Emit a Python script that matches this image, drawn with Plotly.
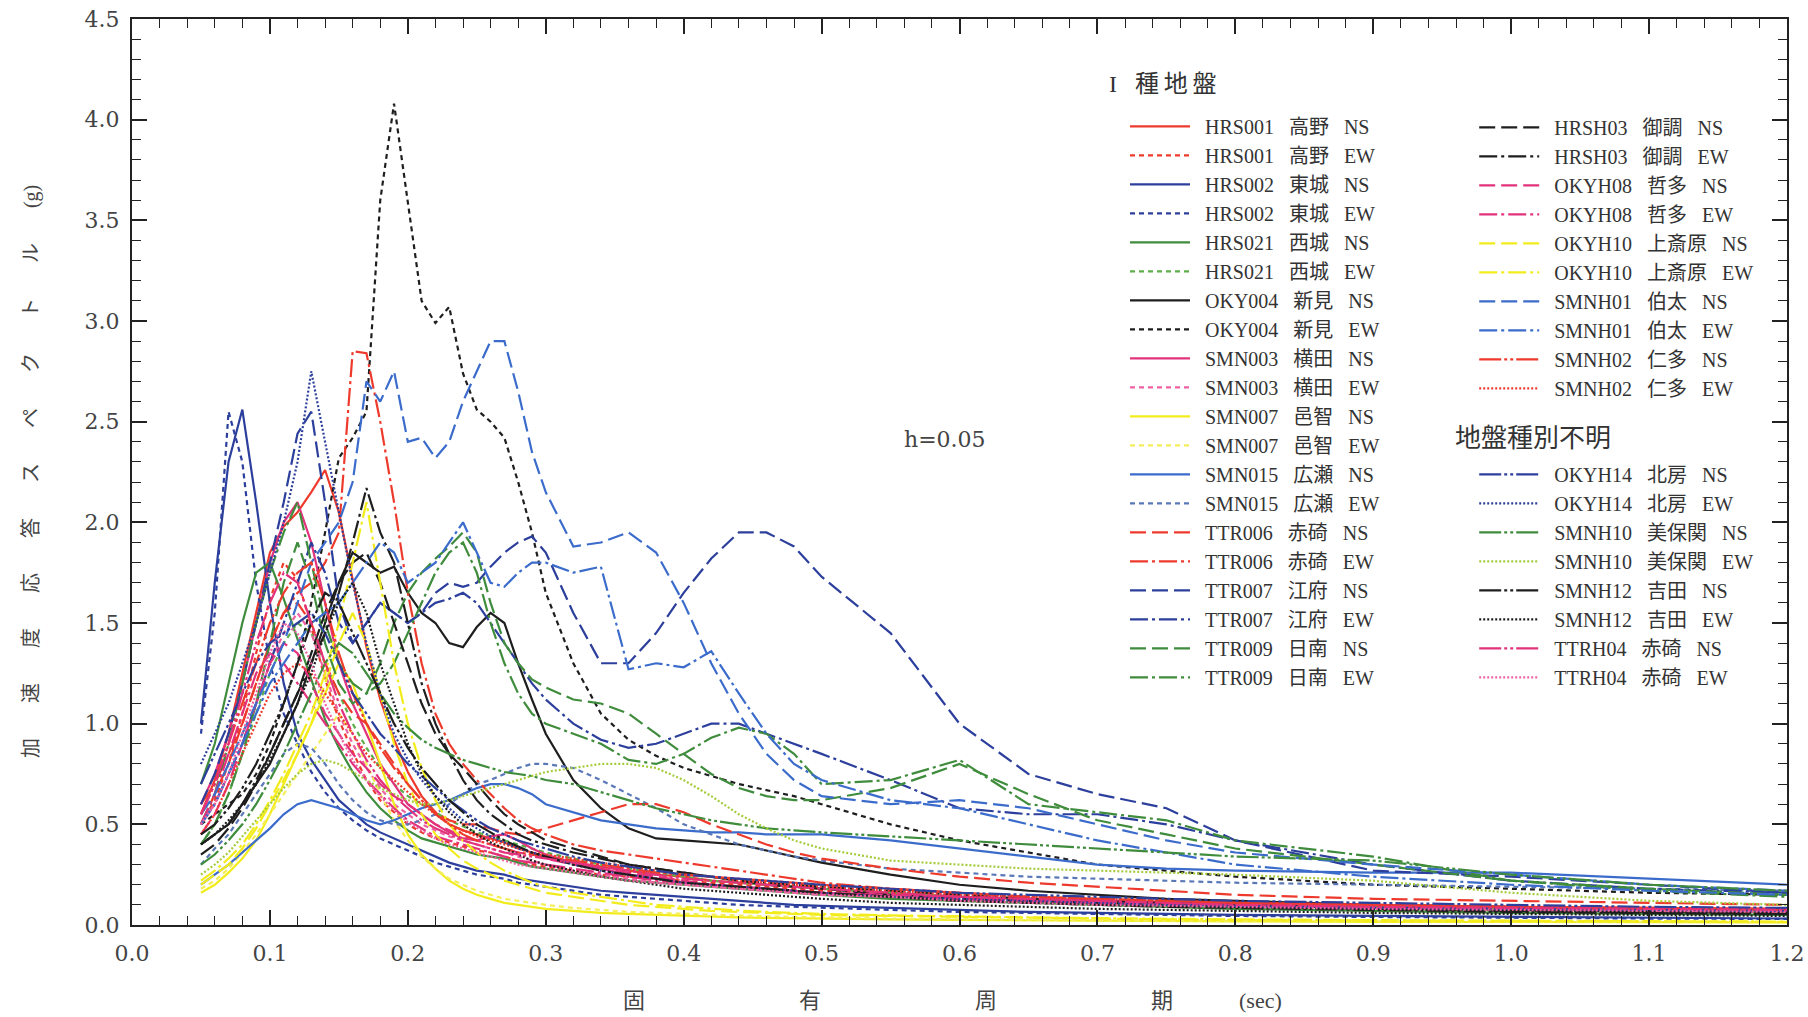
import plotly.graph_objects as go

# natural periods (sec)
period = [
    0.05, 0.06, 0.07, 0.08, 0.09, 0.10, 0.11, 0.12, 0.13, 0.14,
    0.15, 0.16, 0.17, 0.18, 0.19, 0.20, 0.21, 0.22, 0.23, 0.24,
    0.25, 0.26, 0.27, 0.28, 0.29, 0.30, 0.32, 0.34, 0.36, 0.38,
    0.40, 0.42, 0.44, 0.46, 0.48, 0.50, 0.55, 0.60, 0.65, 0.70,
    0.75, 0.80, 0.90, 1.00, 1.10, 1.20]

# acceleration response spectra (g), h=0.05
hrs001_ns = [0.55, 0.72, 0.95, 1.25, 1.55, 1.85, 1.98, 2.05, 2.15, 2.26,
             2.05, 1.72, 1.38, 1.12, 0.92, 0.76, 0.64, 0.56, 0.5, 0.47,
             0.45, 0.43, 0.41, 0.38, 0.36, 0.34, 0.31, 0.29, 0.27, 0.25,
             0.24, 0.22, 0.21, 0.2, 0.19, 0.18, 0.16, 0.14, 0.13, 0.12,
             0.11, 0.1, 0.09, 0.08, 0.07, 0.065]
hrs001_ew = [0.5, 0.62, 0.8, 1.05, 1.35, 1.62, 1.8, 1.72, 1.48, 1.22,
             1.02, 0.86, 0.72, 0.62, 0.56, 0.5, 0.46, 0.43, 0.41, 0.39,
             0.37, 0.36, 0.34, 0.32, 0.3, 0.29, 0.27, 0.25, 0.24, 0.23,
             0.22, 0.21, 0.2, 0.19, 0.18, 0.17, 0.15, 0.13, 0.12, 0.11,
             0.1, 0.095, 0.085, 0.075, 0.065, 0.06]
hrs002_ns = [1.0, 1.7, 2.3, 2.56, 2.1, 1.6, 1.2, 0.95, 0.82, 0.72,
             0.62, 0.56, 0.5, 0.46, 0.43, 0.4, 0.37, 0.34, 0.31, 0.29,
             0.27, 0.26, 0.25, 0.23, 0.22, 0.21, 0.19, 0.17, 0.16, 0.15,
             0.14, 0.13, 0.12, 0.11, 0.1, 0.095, 0.085, 0.075, 0.065, 0.06,
             0.055, 0.05, 0.045, 0.04, 0.035, 0.032]
hrs002_ew = [0.95, 1.55, 2.55, 2.3, 1.7, 1.3, 1.05, 0.9, 0.76, 0.66,
             0.58, 0.52, 0.47, 0.43, 0.4, 0.37, 0.34, 0.31, 0.29, 0.27,
             0.25, 0.24, 0.23, 0.21, 0.2, 0.19, 0.17, 0.15, 0.14, 0.13,
             0.12, 0.11, 0.1, 0.095, 0.09, 0.085, 0.075, 0.065, 0.06, 0.055,
             0.05, 0.045, 0.04, 0.035, 0.032, 0.03]
hrs021_ns = [0.7, 0.9, 1.2, 1.5, 1.75, 1.8, 1.62, 1.42, 1.22, 1.02,
             0.88, 0.76, 0.66, 0.58, 0.52, 0.47, 0.43, 0.41, 0.39, 0.37,
             0.35, 0.34, 0.33, 0.31, 0.29, 0.28, 0.26, 0.24, 0.22, 0.21,
             0.2, 0.19, 0.18, 0.17, 0.16, 0.15, 0.13, 0.12, 0.11, 0.1,
             0.09, 0.08, 0.07, 0.06, 0.055, 0.05]
hrs021_ew = [0.4, 0.5, 0.65, 0.85, 1.05, 1.25, 1.4, 1.5, 1.45, 1.3,
             1.15, 1.0, 0.88, 0.78, 0.7, 0.64, 0.6, 0.56, 0.52, 0.49,
             0.46, 0.44, 0.42, 0.4, 0.38, 0.36, 0.33, 0.3, 0.28, 0.26,
             0.24, 0.22, 0.21, 0.2, 0.19, 0.18, 0.16, 0.14, 0.13, 0.12,
             0.11, 0.1, 0.09, 0.08, 0.07, 0.065]
oky004_ns = [0.4, 0.45, 0.5, 0.6, 0.7, 0.8, 0.95, 1.1, 1.3, 1.5,
             1.7, 1.85, 1.8, 1.75, 1.78, 1.65, 1.55, 1.5, 1.4, 1.38,
             1.48, 1.55, 1.5, 1.3, 1.12, 0.95, 0.72, 0.58, 0.48, 0.43,
             0.42, 0.41, 0.4, 0.37, 0.34, 0.31, 0.25, 0.2, 0.17, 0.15,
             0.13, 0.12, 0.1, 0.09, 0.08, 0.075]
oky004_ew = [0.5, 0.55, 0.6, 0.65, 0.75, 0.9, 1.1, 1.3, 1.6, 1.95,
             2.32, 2.42, 2.55, 3.6, 4.08, 3.6, 3.1, 2.99, 3.07, 2.74,
             2.56, 2.5, 2.42, 2.2, 1.95, 1.65, 1.3, 1.05, 0.92, 0.84,
             0.78, 0.74, 0.7, 0.67, 0.64, 0.6, 0.5, 0.42, 0.36, 0.3,
             0.27, 0.24, 0.2, 0.18, 0.16, 0.15]
smn003_ns = [0.6, 0.75, 0.95, 1.2, 1.5, 1.8, 2.0, 2.1, 1.9, 1.6,
             1.3, 1.1, 0.95, 0.8, 0.7, 0.6, 0.55, 0.5, 0.46, 0.43,
             0.42, 0.44, 0.45, 0.42, 0.38, 0.35, 0.31, 0.28, 0.25, 0.23,
             0.21, 0.2, 0.19, 0.18, 0.17, 0.16, 0.15, 0.14, 0.13, 0.12,
             0.115, 0.11, 0.1, 0.09, 0.085, 0.08]
smn003_ew = [0.5, 0.6, 0.75, 0.9, 1.1, 1.3, 1.45, 1.55, 1.45, 1.25,
             1.05, 0.9, 0.78, 0.68, 0.6, 0.55, 0.5, 0.47, 0.44, 0.42,
             0.4, 0.38, 0.36, 0.34, 0.32, 0.3, 0.27, 0.25, 0.23, 0.21,
             0.2, 0.19, 0.18, 0.17, 0.16, 0.15, 0.14, 0.13, 0.12, 0.11,
             0.1, 0.095, 0.085, 0.08, 0.07, 0.065]
smn007_ns = [0.16, 0.2, 0.26, 0.33, 0.42, 0.55, 0.7, 0.85, 1.0, 1.15,
             1.3, 1.2, 1.0, 0.8, 0.6, 0.45, 0.35, 0.28, 0.22, 0.18,
             0.15, 0.13, 0.11, 0.1, 0.09, 0.08, 0.07, 0.06, 0.055, 0.05,
             0.045, 0.04, 0.038, 0.035, 0.033, 0.03, 0.028, 0.025, 0.023, 0.02,
             0.02, 0.018, 0.016, 0.015, 0.014, 0.013]
smn007_ew = [0.18, 0.22, 0.28, 0.36, 0.45, 0.55, 0.65, 0.75, 0.85, 0.95,
             1.05, 0.95, 0.8, 0.65, 0.52, 0.42, 0.34, 0.28, 0.23, 0.2,
             0.17, 0.15, 0.13, 0.12, 0.11, 0.1, 0.085, 0.075, 0.065, 0.06,
             0.055, 0.05, 0.046, 0.043, 0.04, 0.037, 0.032, 0.028, 0.025, 0.023,
             0.021, 0.02, 0.018, 0.016, 0.015, 0.014]
smn015_ns = [0.2, 0.25, 0.3, 0.36, 0.42, 0.48, 0.55, 0.6, 0.62, 0.6,
             0.58, 0.55, 0.52, 0.5, 0.52, 0.55, 0.58, 0.6, 0.62, 0.65,
             0.68, 0.7, 0.7, 0.68, 0.65, 0.6, 0.56, 0.52, 0.5, 0.48,
             0.47, 0.46, 0.46, 0.45, 0.45, 0.45, 0.42, 0.38, 0.34, 0.3,
             0.28, 0.27, 0.26, 0.26, 0.23, 0.2]
smn015_ew = [0.3, 0.38, 0.45, 0.55, 0.65, 0.75, 0.85, 0.9, 0.88, 0.8,
             0.7, 0.62, 0.56, 0.52, 0.5, 0.5, 0.52, 0.55, 0.6, 0.65,
             0.7, 0.72, 0.75, 0.78, 0.8, 0.8, 0.78, 0.72, 0.65, 0.58,
             0.5, 0.45, 0.4, 0.37, 0.34, 0.32, 0.28, 0.26, 0.24, 0.23,
             0.22, 0.21, 0.2, 0.19, 0.18, 0.17]
ttr006_ns = [0.5, 0.65, 0.8, 1.0, 1.2, 1.4, 1.55, 1.6, 1.5, 1.3,
             1.15, 1.05, 1.0, 0.9, 0.8, 0.7, 0.62, 0.56, 0.52, 0.5,
             0.5, 0.48, 0.46, 0.45, 0.46, 0.48, 0.52, 0.56, 0.6, 0.6,
             0.56, 0.5, 0.45, 0.4, 0.36, 0.33, 0.28, 0.24, 0.21, 0.19,
             0.17, 0.15, 0.13, 0.12, 0.11, 0.1]
ttr006_ew = [0.6, 0.7, 0.85, 1.0, 1.2, 1.4, 1.55, 1.65, 1.7, 1.8,
             1.95, 2.85, 2.84, 2.5, 2.1, 1.65, 1.3, 1.05, 0.9, 0.8,
             0.72, 0.65, 0.58, 0.52, 0.48, 0.45, 0.4, 0.37, 0.35, 0.33,
             0.31, 0.29, 0.27, 0.25, 0.23, 0.21, 0.18, 0.16, 0.14, 0.13,
             0.12, 0.11, 0.1, 0.09, 0.08, 0.075]
ttr007_ns = [0.6, 0.75, 0.95, 1.2, 1.5, 1.8, 2.1, 2.44, 2.55, 2.1,
             1.6, 1.4, 1.5, 1.6, 1.55, 1.5, 1.55, 1.65, 1.7, 1.68,
             1.7, 1.78, 1.85, 1.9, 1.93, 1.85, 1.55, 1.3, 1.3, 1.45,
             1.65, 1.82, 1.95, 1.95, 1.88, 1.73, 1.45, 1.0, 0.75, 0.65,
             0.58, 0.42, 0.27, 0.24, 0.2, 0.16]
ttr007_ew = [0.5, 0.6, 0.75, 0.9, 1.1, 1.3, 1.5, 1.7, 1.9, 1.75,
             1.5, 1.4, 1.5, 1.6, 1.55, 1.5, 1.55, 1.6, 1.62, 1.65,
             1.6, 1.5, 1.4, 1.3, 1.2, 1.12, 1.0, 0.92, 0.88, 0.9,
             0.95, 1.0, 1.0, 0.95, 0.9, 0.85, 0.72, 0.58, 0.55, 0.55,
             0.5, 0.42, 0.3, 0.22, 0.18, 0.16]
ttr009_ns = [0.4, 0.5, 0.65, 0.85, 1.1, 1.4, 1.7, 1.9, 1.7, 1.4,
             1.2, 1.1, 1.15, 1.3, 1.5, 1.65, 1.75, 1.82, 1.88, 1.95,
             1.85, 1.6, 1.4, 1.3, 1.22, 1.18, 1.12, 1.1, 1.05, 0.95,
             0.85, 0.75, 0.68, 0.64, 0.62, 0.62, 0.68, 0.8, 0.65, 0.52,
             0.45, 0.38, 0.3, 0.22, 0.18, 0.15]
ttr009_ew = [0.5, 0.65, 0.9, 1.2, 1.5, 1.75, 1.95, 2.1, 1.8, 1.5,
             1.3, 1.2, 1.15, 1.2, 1.3, 1.45, 1.6, 1.75, 1.85, 1.9,
             1.75, 1.5, 1.3, 1.15, 1.05, 1.0, 0.95, 0.9, 0.82, 0.8,
             0.85, 0.93, 0.98, 0.95, 0.85, 0.7, 0.72, 0.82, 0.6, 0.56,
             0.52, 0.42, 0.34, 0.22, 0.17, 0.14]
hrsh03_ns = [0.35, 0.4, 0.48, 0.58, 0.7, 0.85, 1.0, 1.15, 1.35, 1.55,
             1.7, 1.8, 1.85, 1.7, 1.5, 1.3, 1.1, 0.95, 0.85, 0.78,
             0.7, 0.62, 0.55, 0.5, 0.46, 0.42, 0.38, 0.34, 0.3, 0.28,
             0.26, 0.24, 0.22, 0.2, 0.19, 0.18, 0.15, 0.13, 0.12, 0.11,
             0.1, 0.09, 0.08, 0.07, 0.06, 0.055]
hrsh03_ew = [0.4, 0.45, 0.5, 0.6, 0.72, 0.85, 1.0, 1.15, 1.3, 1.45,
             1.65, 1.9, 2.17, 1.95, 1.8, 1.5, 1.2, 1.0, 0.85, 0.72,
             0.62, 0.55, 0.5, 0.45, 0.42, 0.4, 0.36, 0.33, 0.3, 0.28,
             0.26, 0.24, 0.22, 0.21, 0.2, 0.19, 0.17, 0.15, 0.13, 0.12,
             0.11, 0.1, 0.085, 0.075, 0.065, 0.06]
okyh08_ns = [0.45, 0.55, 0.7, 0.9, 1.1, 1.3, 1.4, 1.35, 1.2, 1.05,
             0.95, 0.85, 0.78, 0.7, 0.64, 0.6, 0.55, 0.5, 0.47, 0.44,
             0.42, 0.4, 0.38, 0.36, 0.35, 0.33, 0.3, 0.28, 0.26, 0.24,
             0.22, 0.2, 0.19, 0.18, 0.17, 0.16, 0.14, 0.13, 0.12, 0.11,
             0.1, 0.095, 0.085, 0.08, 0.075, 0.07]
okyh08_ew = [0.5, 0.65, 0.85, 1.05, 1.25, 1.35, 1.3, 1.2, 1.1, 1.0,
             0.9, 0.8, 0.72, 0.65, 0.58, 0.52, 0.48, 0.44, 0.42, 0.4,
             0.38, 0.36, 0.34, 0.32, 0.31, 0.3, 0.28, 0.26, 0.24, 0.22,
             0.21, 0.2, 0.19, 0.18, 0.17, 0.16, 0.15, 0.14, 0.13, 0.12,
             0.11, 0.1, 0.09, 0.085, 0.08, 0.075]
okyh10_ns = [0.2, 0.25, 0.3, 0.38, 0.48, 0.6, 0.72, 0.85, 1.0, 1.2,
             1.4, 1.55, 1.4, 1.15, 0.9, 0.7, 0.55, 0.45, 0.38, 0.32,
             0.28, 0.25, 0.22, 0.2, 0.18, 0.16, 0.14, 0.12, 0.1, 0.09,
             0.08, 0.07, 0.065, 0.06, 0.055, 0.05, 0.045, 0.04, 0.035, 0.03,
             0.028, 0.025, 0.022, 0.02, 0.018, 0.016]
okyh10_ew = [0.22, 0.27, 0.33, 0.4, 0.5, 0.62, 0.75, 0.9, 1.05, 1.25,
             1.5, 1.8, 2.1, 1.7, 1.3, 1.0, 0.78, 0.62, 0.5, 0.42,
             0.36, 0.31, 0.27, 0.24, 0.21, 0.19, 0.16, 0.14, 0.12, 0.1,
             0.09, 0.08, 0.072, 0.065, 0.06, 0.055, 0.048, 0.042, 0.038, 0.034,
             0.03, 0.028, 0.024, 0.021, 0.019, 0.017]
smnh01_ns = [0.55, 0.65, 0.8, 0.95, 1.1, 1.25, 1.4, 1.6, 1.8, 1.9,
             2.0, 2.2, 2.7, 2.6, 2.75, 2.4, 2.42, 2.32, 2.4, 2.6,
             2.75, 2.9, 2.9, 2.65, 2.35, 2.15, 1.88, 1.9, 1.95, 1.85,
             1.6, 1.3, 1.05, 0.85, 0.72, 0.64, 0.6, 0.62, 0.58, 0.5,
             0.42, 0.36, 0.3, 0.25, 0.2, 0.17]
smnh01_ew = [0.5, 0.6, 0.75, 0.9, 1.05, 1.2, 1.3, 1.4, 1.5, 1.55,
             1.6, 1.7, 1.8, 1.9, 1.85, 1.7, 1.75, 1.8, 1.9, 2.0,
             1.85, 1.7, 1.68, 1.75, 1.8, 1.8, 1.75, 1.78, 1.27, 1.3,
             1.28, 1.36, 1.15, 0.95, 0.8, 0.72, 0.62, 0.58, 0.5, 0.42,
             0.36, 0.3, 0.24, 0.2, 0.17, 0.15]
smnh02_ns = [0.55, 0.7, 0.9, 1.1, 1.3, 1.5, 1.65, 1.75, 1.8, 1.6,
             1.35, 1.15, 1.0, 0.88, 0.78, 0.7, 0.62, 0.55, 0.5, 0.45,
             0.42, 0.4, 0.38, 0.36, 0.35, 0.34, 0.32, 0.3, 0.28, 0.26,
             0.25, 0.24, 0.23, 0.22, 0.21, 0.2, 0.18, 0.16, 0.14, 0.13,
             0.12, 0.11, 0.1, 0.09, 0.085, 0.08]
smnh02_ew = [0.45, 0.55, 0.7, 0.85, 1.0, 1.15, 1.25, 1.3, 1.25, 1.15,
             1.05, 0.95, 0.85, 0.78, 0.72, 0.66, 0.6, 0.55, 0.5, 0.47,
             0.44, 0.42, 0.4, 0.38, 0.36, 0.35, 0.33, 0.31, 0.29, 0.27,
             0.25, 0.24, 0.22, 0.21, 0.2, 0.19, 0.17, 0.15, 0.14, 0.13,
             0.12, 0.11, 0.1, 0.09, 0.08, 0.075]
okyh14_ns = [0.7, 0.85, 1.0, 1.15, 1.3, 1.4, 1.45, 1.5, 1.55, 1.45,
             1.3, 1.15, 1.05, 0.95, 0.88, 0.8, 0.74, 0.68, 0.62, 0.57,
             0.52, 0.48, 0.45, 0.42, 0.4, 0.38, 0.34, 0.31, 0.29, 0.27,
             0.25, 0.24, 0.23, 0.22, 0.21, 0.2, 0.18, 0.16, 0.15, 0.14,
             0.13, 0.12, 0.11, 0.1, 0.09, 0.085]
okyh14_ew = [0.8, 0.95, 1.1, 1.3, 1.5, 1.75, 2.0, 2.3, 2.75, 2.4,
             2.05, 1.7, 1.4, 1.15, 0.95, 0.82, 0.72, 0.64, 0.58, 0.52,
             0.48, 0.44, 0.41, 0.38, 0.36, 0.34, 0.3, 0.27, 0.25, 0.23,
             0.21, 0.2, 0.19, 0.18, 0.17, 0.16, 0.14, 0.13, 0.12, 0.11,
             0.1, 0.095, 0.085, 0.08, 0.075, 0.07]
smnh10_ns = [0.3, 0.35, 0.42, 0.5, 0.6, 0.72, 0.85, 1.0, 1.15, 1.3,
             1.4, 1.35, 1.25, 1.15, 1.05, 0.98, 0.92, 0.88, 0.85, 0.82,
             0.8, 0.78, 0.76, 0.75, 0.74, 0.72, 0.7, 0.66, 0.62, 0.58,
             0.55, 0.52, 0.5, 0.48, 0.47, 0.46, 0.44, 0.42, 0.4, 0.38,
             0.36, 0.34, 0.32, 0.25, 0.2, 0.17]
smnh10_ew = [0.25, 0.3, 0.36, 0.44, 0.52, 0.6, 0.68, 0.75, 0.8, 0.82,
             0.8, 0.76, 0.72, 0.68, 0.65, 0.62, 0.6, 0.6, 0.62, 0.64,
             0.66, 0.68, 0.7, 0.72, 0.74, 0.76, 0.78, 0.8, 0.8, 0.78,
             0.72, 0.64, 0.55, 0.48, 0.42, 0.38, 0.32, 0.3, 0.28, 0.27,
             0.26, 0.25, 0.22, 0.16, 0.12, 0.1]
smnh12_ns = [0.45, 0.5, 0.58, 0.68, 0.8, 0.95, 1.1, 1.3, 1.5, 1.65,
             1.6, 1.45, 1.3, 1.15, 1.0, 0.88, 0.78, 0.7, 0.62, 0.56,
             0.5, 0.46, 0.42, 0.39, 0.36, 0.34, 0.3, 0.27, 0.25, 0.23,
             0.21, 0.2, 0.19, 0.18, 0.17, 0.16, 0.14, 0.12, 0.11, 0.1,
             0.09, 0.085, 0.075, 0.065, 0.06, 0.055]
smnh12_ew = [0.4, 0.45, 0.52, 0.6, 0.7, 0.82, 0.95, 1.1, 1.25, 1.45,
             1.6, 1.7, 1.55, 1.3, 1.1, 0.9, 0.75, 0.64, 0.56, 0.5,
             0.45, 0.41, 0.38, 0.35, 0.32, 0.3, 0.27, 0.24, 0.22, 0.2,
             0.18, 0.17, 0.16, 0.15, 0.14, 0.13, 0.11, 0.1, 0.09, 0.08,
             0.075, 0.07, 0.06, 0.055, 0.05, 0.045]
ttrh04_ns = [0.55, 0.7, 0.9, 1.15, 1.4, 1.6, 1.75, 1.7, 1.5, 1.3,
             1.1, 0.95, 0.82, 0.72, 0.64, 0.58, 0.52, 0.48, 0.45, 0.42,
             0.4, 0.38, 0.36, 0.35, 0.34, 0.33, 0.31, 0.29, 0.27, 0.25,
             0.23, 0.22, 0.21, 0.2, 0.19, 0.18, 0.16, 0.14, 0.13, 0.12,
             0.11, 0.1, 0.09, 0.085, 0.08, 0.075]
ttrh04_ew = [0.5, 0.6, 0.75, 0.95, 1.15, 1.35, 1.5, 1.45, 1.3, 1.1,
             0.95, 0.82, 0.72, 0.64, 0.57, 0.51, 0.47, 0.43, 0.4, 0.38,
             0.36, 0.34, 0.32, 0.3, 0.29, 0.28, 0.26, 0.24, 0.22, 0.21,
             0.2, 0.19, 0.18, 0.17, 0.16, 0.15, 0.14, 0.12, 0.11, 0.1,
             0.095, 0.09, 0.08, 0.075, 0.07, 0.065]

# line colours
RED = "#ee3a2c"
DBLUE = "#2c3f9c"
MBLUE = "#3b6ccb"
GREEN = "#3f8c3c"
LGREEN = "#5fae4c"
YGREEN = "#a4cc3a"
BLACK = "#1e1e1e"
MAGENTA = "#e2327c"
PINK = "#ee62a2"
YELLOW = "#f2ec1c"
LYELLOW = "#f4ee5a"
GBLUE = "#5a78b8"

# dash patterns
SOLID = "solid"
DOT = "5px,4px"
DASH = "16px,6px"
DASHDOT = "18px,4px,3px,4px"
DASHDOTDOT = "22px,3px,3px,3px,3px,3px"
FINEDOT = "2px,2px"

SP = "\u2002 "


def label(code, site, comp):
    return f"\u2002{code}{SP}{site}{SP}{comp}"


# (code, site, component, values, colour, dash, legend)
records = [
    ("HRS001", "高野", "NS", hrs001_ns, RED, SOLID, "legend"),
    ("HRS001", "高野", "EW", hrs001_ew, RED, DOT, "legend"),
    ("HRS002", "東城", "NS", hrs002_ns, DBLUE, SOLID, "legend"),
    ("HRS002", "東城", "EW", hrs002_ew, DBLUE, DOT, "legend"),
    ("HRS021", "西城", "NS", hrs021_ns, GREEN, SOLID, "legend"),
    ("HRS021", "西城", "EW", hrs021_ew, LGREEN, DOT, "legend"),
    ("OKY004", "新見", "NS", oky004_ns, BLACK, SOLID, "legend"),
    ("OKY004", "新見", "EW", oky004_ew, BLACK, DOT, "legend"),
    ("SMN003", "横田", "NS", smn003_ns, MAGENTA, SOLID, "legend"),
    ("SMN003", "横田", "EW", smn003_ew, PINK, DOT, "legend"),
    ("SMN007", "邑智", "NS", smn007_ns, YELLOW, SOLID, "legend"),
    ("SMN007", "邑智", "EW", smn007_ew, LYELLOW, DOT, "legend"),
    ("SMN015", "広瀬", "NS", smn015_ns, MBLUE, SOLID, "legend"),
    ("SMN015", "広瀬", "EW", smn015_ew, GBLUE, DOT, "legend"),
    ("TTR006", "赤碕", "NS", ttr006_ns, RED, DASH, "legend"),
    ("TTR006", "赤碕", "EW", ttr006_ew, RED, DASHDOT, "legend"),
    ("TTR007", "江府", "NS", ttr007_ns, DBLUE, DASH, "legend"),
    ("TTR007", "江府", "EW", ttr007_ew, DBLUE, DASHDOT, "legend"),
    ("TTR009", "日南", "NS", ttr009_ns, GREEN, DASH, "legend"),
    ("TTR009", "日南", "EW", ttr009_ew, GREEN, DASHDOT, "legend"),
    ("HRSH03", "御調", "NS", hrsh03_ns, BLACK, DASH, "legend2"),
    ("HRSH03", "御調", "EW", hrsh03_ew, BLACK, DASHDOT, "legend2"),
    ("OKYH08", "哲多", "NS", okyh08_ns, MAGENTA, DASH, "legend2"),
    ("OKYH08", "哲多", "EW", okyh08_ew, MAGENTA, DASHDOT, "legend2"),
    ("OKYH10", "上斎原", "NS", okyh10_ns, YELLOW, DASH, "legend2"),
    ("OKYH10", "上斎原", "EW", okyh10_ew, YELLOW, DASHDOT, "legend2"),
    ("SMNH01", "伯太", "NS", smnh01_ns, MBLUE, DASH, "legend2"),
    ("SMNH01", "伯太", "EW", smnh01_ew, MBLUE, DASHDOT, "legend2"),
    ("SMNH02", "仁多", "NS", smnh02_ns, RED, DASHDOTDOT, "legend2"),
    ("SMNH02", "仁多", "EW", smnh02_ew, RED, FINEDOT, "legend2"),
    ("OKYH14", "北房", "NS", okyh14_ns, DBLUE, DASHDOTDOT, "legend3"),
    ("OKYH14", "北房", "EW", okyh14_ew, DBLUE, FINEDOT, "legend3"),
    ("SMNH10", "美保関", "NS", smnh10_ns, GREEN, DASHDOTDOT, "legend3"),
    ("SMNH10", "美保関", "EW", smnh10_ew, YGREEN, FINEDOT, "legend3"),
    ("SMNH12", "吉田", "NS", smnh12_ns, BLACK, DASHDOTDOT, "legend3"),
    ("SMNH12", "吉田", "EW", smnh12_ew, BLACK, FINEDOT, "legend3"),
    ("TTRH04", "赤碕", "NS", ttrh04_ns, MAGENTA, DASHDOTDOT, "legend3"),
    ("TTRH04", "赤碕", "EW", ttrh04_ew, PINK, FINEDOT, "legend3"),
]

fig = go.Figure()
for code, site, comp, vals, color, dash, leg in records:
    fig.add_trace(go.Scatter(
        x=period, y=vals, mode="lines",
        name=label(code, site, comp),
        line=dict(color=color, width=2.2, dash=dash),
        legend=leg,
    ))

SERIF = "DejaVu Serif, Liberation Serif, serif"
LEGFONT = dict(family="Liberation Serif, Noto Sans CJK JP", size=20, color="#333333")
CJK = "Liberation Serif, Noto Sans CJK JP"

legend_common = dict(
    font=LEGFONT, bgcolor="rgba(0,0,0,0)", borderwidth=0,
    itemwidth=60, tracegroupgap=0, xanchor="left", yanchor="top",
    itemclick=False, itemdoubleclick=False,
)

axis_common = dict(
    showline=True, linecolor="#222222", linewidth=2, mirror="ticks",
    ticks="inside", ticklen=15, tickwidth=1.6, tickcolor="#222222",
    showgrid=False, zeroline=False, automargin=False,
    tickfont=dict(family=SERIF, size=22, color="#444444"),
    tickformat=".1f",
)

fig.update_layout(
    width=1808, height=1017,
    margin=dict(l=132, r=21, t=19, b=92, autoexpand=False),
    paper_bgcolor="white", plot_bgcolor="white",
    showlegend=True,
    xaxis=dict(range=[0, 1.2], dtick=0.1, tick0=0,
               minor=dict(ticks="inside", ticklen=9, dtick=0.02, tick0=0,
                          tickcolor="#222222", tickwidth=1.4),
               ticklabelstandoff=8, **axis_common),
    yaxis=dict(range=[0, 4.5], dtick=0.5, tick0=0,
               minor=dict(ticks="inside", ticklen=9, dtick=0.1, tick0=0,
                          tickcolor="#222222", tickwidth=1.4),
               ticklabelstandoff=6, **axis_common),
    legend=dict(x=0.600, y=0.903, **legend_common),
    legend2=dict(x=0.811, y=0.902, **legend_common),
    legend3=dict(x=0.811, y=0.519, **legend_common),
)

fig.add_annotation(
    text="I\u2002 種\u2009地\u2009盤", xref="paper", yref="paper",
    x=0.589, y=0.928, xanchor="left", yanchor="middle", showarrow=False,
    font=dict(family=CJK, size=24, color="#333333"))
fig.add_annotation(
    text="地盤種別不明", xref="paper", yref="paper",
    x=0.798, y=0.5375, xanchor="left", yanchor="middle", showarrow=False,
    font=dict(family=CJK, size=26, color="#333333"))
fig.add_annotation(
    text="h=0.05", xref="x", yref="y", x=0.5896, y=2.41,
    xanchor="center", yanchor="middle", showarrow=False,
    font=dict(family=SERIF, size=22, color="#444444"))

gap = "\u3000\u2002 "
ytitle = gap.join(["加", "速", "度", "応", "答", "ス", "ペ", "ク", "ト", "ル", "(g)"])
fig.add_annotation(
    text=ytitle, xref="paper", yref="paper", x=-0.061, y=0.5,
    xanchor="center", yanchor="middle", textangle=-90, showarrow=False,
    font=dict(family=CJK, size=20, color="#444444"))

xgap = "\u3000" * 7
xtitle = xgap.join(["固", "有", "周", "期"]) + "\u3000\u3000\u2002\u2002" + "(sec)"
fig.add_annotation(
    text=xtitle, xref="paper", yref="paper", x=0.4955, y=-0.0828,
    xanchor="center", yanchor="middle", showarrow=False,
    font=dict(family=CJK, size=22, color="#444444"))

fig.write_html("out.html")
